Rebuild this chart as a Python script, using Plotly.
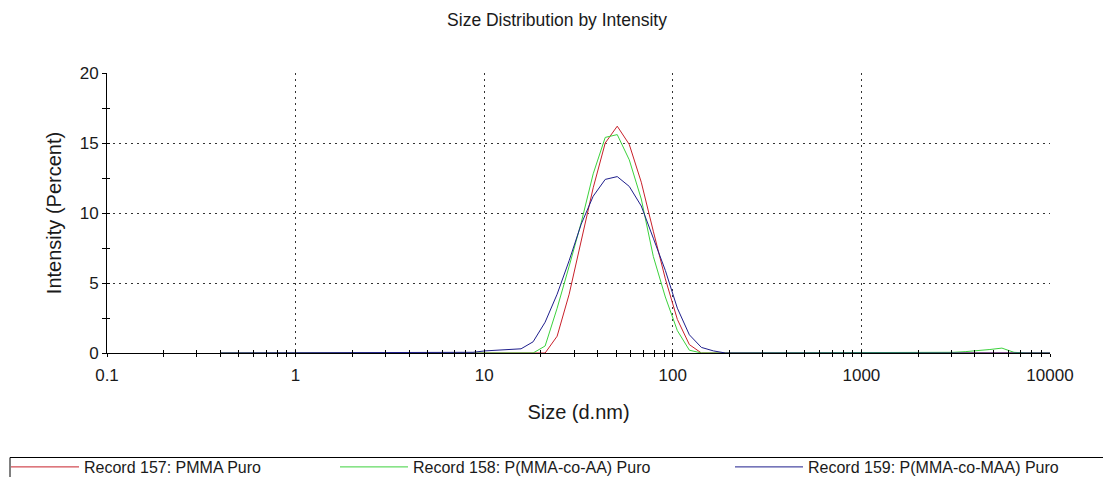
import numpy as np
import plotly.graph_objects as go

# 70 log-spaced size bins (d.nm) from 0.4 to 10000
n_bins = 70
sizes = [0.4 * (10000 / 0.4) ** (i / (n_bins - 1)) for i in range(n_bins)]

def series(nonzero):
    v = [0.0] * n_bins
    for k, val in nonzero.items():
        v[k] = val
    return v

pmma = series({28: 1.2, 29: 4.2, 30: 8.0, 31: 11.8, 32: 15.0, 33: 16.2, 34: 14.9,
               35: 12.2, 36: 8.7, 37: 5.3, 38: 2.4, 39: 0.6})
p_aa = series({27: 0.5, 28: 3.2, 29: 6.2, 30: 9.3, 31: 12.8, 32: 15.4, 33: 15.6,
               34: 13.8, 35: 11.0, 36: 6.9, 37: 4.0, 38: 1.6, 39: 0.2,
               61: 0.05, 62: 0.1, 63: 0.15, 64: 0.25, 65: 0.35, 66: 0.05})
p_maa = series({21: 0.05, 22: 0.15, 23: 0.2, 24: 0.2, 25: 0.3, 26: 0.8, 27: 2.2,
                28: 4.2, 29: 6.6, 30: 9.2, 31: 11.2, 32: 12.4, 33: 12.6, 34: 11.9,
                35: 10.5, 36: 8.2, 37: 5.9, 38: 3.2, 39: 1.3, 40: 0.4, 41: 0.15})

names = ["Record 157: PMMA Puro", "Record 158: P(MMA-co-AA) Puro",
         "Record 159: P(MMA-co-MAA) Puro"]
colors = ["#c8202a", "#3cd23c", "#1e1e8c"]
values = [pmma, p_aa, p_maa]
legends = ["legend", "legend2", "legend3"]

FONT = "Arial, 'Liberation Sans', sans-serif"
fig = go.Figure()
for name, col, vals, lg in zip(names, colors, values, legends):
    fig.add_trace(go.Scatter(x=sizes, y=vals, mode="lines", name=name,
                             line=dict(color=col, width=1), legend=lg))

grid = dict(showgrid=True, gridcolor="#333333", gridwidth=1, griddash="2px,4px")
fig.update_layout(
    width=1103, height=477,
    margin=dict(l=107, r=53, t=73, b=124, autoexpand=False),
    paper_bgcolor="white", plot_bgcolor="white",
    font=dict(family=FONT, size=17, color="#1a1a1a"),
    title=dict(text="Size Distribution by Intensity", x=557 / 1103, xanchor="center",
               y=1 - 20 / 477, yanchor="middle", font=dict(size=17.5)),
    xaxis=dict(type="log", range=[-1, 4], tickvals=[0.1, 1, 10, 100, 1000, 10000],
               ticktext=["0.1", "1", "10", "100", "1000", "10000"],
               showline=True, linecolor="black", linewidth=1, mirror=False,
               ticks="outside", ticklen=3, tickcolor="black", layer="below traces",
               ticklabelstandoff=4,
               minor=dict(ticks="outside", ticklen=3, tickcolor="black", dtick="D1", showgrid=False),
               title=dict(text="Size (d.nm)", standoff=20), zeroline=False, **grid),
    yaxis=dict(range=[0, 20], dtick=5, showline=True, linecolor="black", linewidth=1,
               ticks="outside", ticklen=4, tickcolor="black", layer="below traces",
               minor=dict(ticks="outside", ticklen=4, tickcolor="black", dtick=2.5, showgrid=False),
               title=dict(text="Intensity (Percent)", standoff=12), zeroline=False, **grid),
    xaxis2=dict(type="log", range=[-1, 4], overlaying="x", anchor="y", side="bottom",
                showgrid=False, showline=False, showticklabels=False, ticks="inside",
                ticklen=3, tickcolor="black", tickvals=[0.1, 1, 10, 100, 1000, 10000],
                minor=dict(ticks="inside", ticklen=3, tickcolor="black", dtick="D1")),
    yaxis2=dict(range=[0, 20], overlaying="y", anchor="x", side="left", dtick=5,
                showgrid=False, showline=False, showticklabels=False, ticks="inside",
                ticklen=3, tickcolor="black",
                minor=dict(ticks="inside", ticklen=3, tickcolor="black", dtick=2.5)),
    showlegend=True,
)
# empty trace to activate the overlay axes (no visible marks)
fig.add_trace(go.Scatter(x=[None], y=[None], xaxis="x2", yaxis="y2", showlegend=False,
                         hoverinfo="skip"))

leg_common = dict(orientation="h", yanchor="middle", y=(353 - 467) / 280, xanchor="left",
                  bgcolor="rgba(0,0,0,0)", borderwidth=0, itemwidth=68,
                  font=dict(size=16, family=FONT, color="#1a1a1a"))
fig.update_layout(
    legend=dict(x=(6 - 107) / 943, **leg_common),
    legend2=dict(x=(335 - 107) / 943, **leg_common),
    legend3=dict(x=(730 - 107) / 943, **leg_common),
)
# legend frame
fig.add_shape(type="rect", xref="paper", yref="paper",
              x0=(10 - 107) / 943, x1=(1115 - 107) / 943,
              y0=(353 - 490) / 280, y1=(353 - 457.5) / 280,
              line=dict(color="black", width=1), fillcolor="rgba(0,0,0,0)", layer="below")

fig.write_html("out.html")
